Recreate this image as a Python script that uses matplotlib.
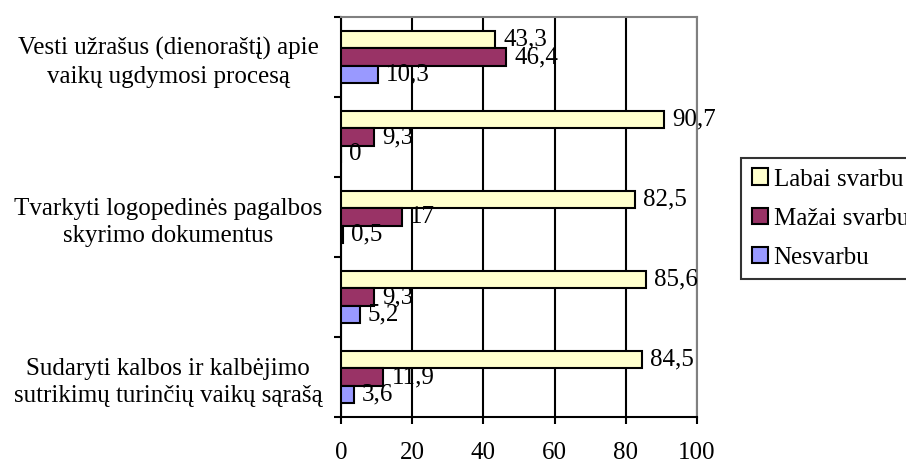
import matplotlib.pyplot as plt
import numpy as np

plt.rcParams['font.family'] = ['Liberation Serif', 'DejaVu Serif']

categories = [
    "Vesti užrašus (dienoraštį) apie\nvaikų ugdymosi procesą",
    "",
    "Tvarkyti logopedinės pagalbos\nskyrimo dokumentus",
    "",
    "Sudaryti kalbos ir kalbėjimo\nsutrikimų turinčių vaikų sąrašą",
]
series_names = ["Labai svarbu", "Mažai svarbu", "Nesvarbu"]
labai = [43.3, 90.7, 82.5, 85.6, 84.5]
mazai = [46.4, 9.3, 17, 9.3, 11.9]
nesvarbu = [10.3, 0, 0.5, 5.2, 3.6]
colors = ["#FFFFCC", "#993366", "#9999FF"]
xticks = [0, 20, 40, 60, 80, 100]

fig = plt.figure(figsize=(9.06, 4.63), dpi=100)
ax = fig.add_axes([341 / 906, 1 - 417 / 463, 356 / 906, 400 / 463])

y = np.arange(len(categories))
h = 0.217
for k, (vals, name, col) in enumerate(zip([labai, mazai, nesvarbu], series_names, colors)):
    pos = y + (k - 1) * h
    ax.barh(pos, vals, height=h, color=col, edgecolor='black', linewidth=1.5,
            label=name, zorder=3)
    for p, v in zip(pos, vals):
        txt = ("%g" % v).replace('.', ',')
        ax.annotate(txt, (v, p), xytext=(6, 0), textcoords='offset points',
                    va='center', ha='left', fontsize=18, zorder=4)

ax.set_xlim(0, 100)
ax.set_ylim(len(categories) - 0.5, -0.5)
ax.set_xticks(xticks)
ax.set_xticklabels([str(t) for t in xticks], fontsize=18)
ax.tick_params(axis='x', length=5, width=1.5, pad=13)
ax.set_yticks(y)
ax.set_yticklabels(categories, fontsize=18, ha='center', multialignment='center',
                   linespacing=1.35)
ax.tick_params(axis='y', which='major', length=0, pad=124.5)
ax.set_yticks(np.arange(len(categories) + 1) - 0.5, minor=True)
ax.tick_params(axis='y', which='minor', length=5, width=1.5, direction='out')

ax.grid(axis='x', color='black', linewidth=1.5, zorder=0)
ax.set_axisbelow(True)
for s in ['left', 'bottom']:
    ax.spines[s].set_color('black')
    ax.spines[s].set_linewidth(1.5)
for s in ['top', 'right']:
    ax.spines[s].set_color('#808080')
    ax.spines[s].set_linewidth(1.5)

leg = fig.legend(loc='upper left', bbox_to_anchor=(741 / 906, 1 - 158 / 463),
                 fontsize=18, frameon=True, fancybox=False, edgecolor='black',
                 handlelength=0.64, handleheight=0.64, handletextpad=0.24,
                 borderpad=0.42, labelspacing=0.68, borderaxespad=0)
leg.get_frame().set_linewidth(1.5)
for patch in leg.get_patches():
    patch.set_linewidth(1.5)

fig.savefig('out.png', dpi=100)
